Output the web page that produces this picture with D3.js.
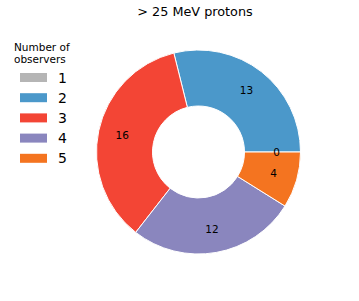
<!DOCTYPE html>
<html>
<head>
<meta charset="utf-8">
<script src="https://cdn.jsdelivr.net/npm/d3@7"></script>
<style>
  body { margin: 0; background: #fff; }
  text { font-family: "DejaVu Sans", sans-serif; fill: #000; }
</style>
</head>
<body>
<div id="chart"></div>
<script>
const categories = ['1', '2', '3', '4', '5']
const values = [0, 13, 16, 12, 4]
const colors = ['#b5b5b5', '#4b98ca', '#f34535', '#8a86be', '#f47420']
const title = '> 25 MeV protons'
const legendTitle = ['Number of', 'observers']

const width = 359, height = 301
const cx = 198.5, cy = 152
const outerR = 102, innerR = 46, labelR = 78

const svg = d3.select('#chart').append('svg')
  .attr('width', width)
  .attr('height', height)

const data = categories.map((c, i) => ({cat: c, value: values[i], color: colors[i]}))

// matplotlib style: start at 3 o'clock, go counterclockwise
const pie = d3.pie()
  .sort(null)
  .value(d => d.value)
  .startAngle(Math.PI / 2)
  .endAngle(Math.PI / 2 - 2 * Math.PI)

const arc = d3.arc()
  .innerRadius(innerR)
  .outerRadius(outerR)

const labelArc = d3.arc()
  .innerRadius(labelR)
  .outerRadius(labelR)

const g = svg.append('g')
  .attr('transform', `translate(${cx},${cy})`)

const arcs = pie(data)

g.selectAll('path')
  .data(arcs)
  .join('path')
  .attr('d', arc)
  .attr('fill', d => d.data.color)
  .attr('stroke', '#fff')
  .attr('stroke-width', 1)

g.selectAll('text.val')
  .data(arcs)
  .join('text')
  .attr('class', 'val')
  .attr('transform', d => `translate(${labelArc.centroid(d)})`)
  .attr('text-anchor', 'middle')
  .attr('dy', '0.35em')
  .style('font-size', '10.5px')
  .text(d => d.data.value)

svg.append('text')
  .attr('x', 195)
  .attr('y', 16)
  .attr('text-anchor', 'middle')
  .style('font-size', '12.8px')
  .text(title)

// legend
const legend = svg.append('g')
legend.selectAll('text.lt')
  .data(legendTitle)
  .join('text')
  .attr('class', 'lt')
  .attr('x', 14)
  .attr('y', (d, i) => 51 + i * 12)
  .style('font-size', '10.5px')
  .text(d => d)

const item = legend.selectAll('g.item')
  .data(data)
  .join('g')
  .attr('class', 'item')
  .attr('transform', (d, i) => `translate(0,${77.5 + i * 20.2})`)

item.append('rect')
  .attr('x', 20)
  .attr('y', -4.5)
  .attr('width', 27)
  .attr('height', 9)
  .attr('fill', d => d.color)

item.append('text')
  .attr('x', 58)
  .attr('y', 0)
  .attr('dy', '0.36em')
  .style('font-size', '14px')
  .text(d => d.cat)
</script>
</body>
</html>
